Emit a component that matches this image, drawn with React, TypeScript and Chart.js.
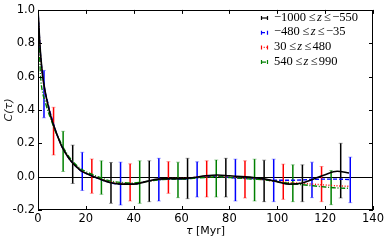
import React, { useEffect, useRef } from "react";
import { Chart, registerables } from "chart.js";
Chart.register(...registerables);

const TAU = [0, 1, 2, 3, 4, 5, 6, 7, 8, 10, 12, 14, 16, 18, 20, 25, 30, 35, 40, 45, 50, 55, 60, 65, 70, 75, 80, 85, 90, 95, 100, 105, 110, 115, 120, 125, 130];

const BLACK_C = [1.0, 0.75, 0.6, 0.51, 0.44, 0.38, 0.33, 0.29, 0.25, 0.18, 0.13, 0.09, 0.06, 0.035, 0.02, -0.01, -0.035, -0.045, -0.045, -0.03, -0.015, -0.012, -0.012, -0.005, 0.005, 0.01, 0.005, 0.0, -0.005, -0.015, -0.03, -0.045, -0.04, -0.015, 0.012, 0.032, 0.022];
const BLUE_C = [1.0, 0.74, 0.6, 0.51, 0.45, 0.39, 0.34, 0.29, 0.25, 0.18, 0.13, 0.09, 0.06, 0.035, 0.02, -0.01, -0.035, -0.045, -0.045, -0.03, -0.018, -0.015, -0.015, -0.008, 0.0, 0.002, -0.005, -0.01, -0.012, -0.018, -0.022, -0.022, -0.02, -0.016, -0.015, -0.015, -0.017];
const RED_C = [1.0, 0.73, 0.59, 0.5, 0.44, 0.38, 0.33, 0.29, 0.25, 0.18, 0.13, 0.09, 0.06, 0.037, 0.02, -0.008, -0.03, -0.04, -0.042, -0.03, -0.018, -0.012, -0.01, -0.005, 0.0, 0.002, -0.003, -0.008, -0.012, -0.02, -0.03, -0.035, -0.04, -0.045, -0.05, -0.055, -0.058];
const GREEN_C = [1.0, 0.62, 0.5, 0.45, 0.4, 0.36, 0.32, 0.28, 0.25, 0.19, 0.14, 0.1, 0.07, 0.045, 0.03, 0.0, -0.025, -0.035, -0.038, -0.03, -0.02, -0.015, -0.015, -0.01, -0.005, 0.0, -0.005, -0.01, -0.015, -0.02, -0.03, -0.04, -0.048, -0.055, -0.062, -0.068, -0.07];

const BLACK_ERR_TAU = [14.5, 30.5, 46.5, 62.5, 78.5, 94.5, 110.5, 126.5];
const BLACK_ERR_LO = [-0.041, -0.16, -0.15, -0.132, -0.122, -0.15, -0.15, -0.128];
const BLACK_ERR_HI = [0.189, 0.085, 0.095, 0.11, 0.11, 0.099, 0.071, 0.2];

const BLUE_ERR_TAU = [2.5, 18.5, 34.5, 50.5, 66.5, 82.5, 98.5, 114.5, 130.5];
const BLUE_ERR_LO = [0.353, -0.083, -0.17, -0.146, -0.122, -0.146, -0.15, -0.126, -0.156];
const BLUE_ERR_HI = [0.637, 0.146, 0.087, 0.11, 0.089, 0.105, 0.105, 0.087, 0.117];

const RED_ERR_TAU = [6.5, 22.5, 38.5, 54.5, 70.5, 86.5, 102.5, 118.5];
const RED_ERR_LO = [0.13, -0.1, -0.146, -0.1, -0.122, -0.128, -0.136, -0.15];
const RED_ERR_HI = [0.416, 0.106, 0.077, 0.09, 0.095, 0.095, 0.075, 0.061];

const GREEN_ERR_TAU = [10.5, 26.5, 42.5, 58.5, 74.5, 90.5, 106.5, 122.5];
const GREEN_ERR_LO = [0.031, -0.106, -0.16, -0.126, -0.122, -0.146, -0.15, -0.168];
const GREEN_ERR_HI = [0.272, 0.095, 0.095, 0.087, 0.1, 0.105, 0.071, 0.037];

const X_TICKS = [0, 20, 40, 60, 80, 100, 120, 140];
const Y_TICKS = [-0.2, 0.0, 0.2, 0.4, 0.6, 0.8, 1.0];

const LEGEND_LO = ["\u22121000", "\u2212480", "30", "540"];
const LEGEND_HI = ["\u2212550", "\u221235", "480", "990"];

const SERIES = [
  { color: "#000000", dash: [] as number[], values: BLACK_C, eT: BLACK_ERR_TAU, eL: BLACK_ERR_LO, eH: BLACK_ERR_HI },
  { color: "#0000ff", dash: [4, 2], values: BLUE_C, eT: BLUE_ERR_TAU, eL: BLUE_ERR_LO, eH: BLUE_ERR_HI },
  { color: "#ff0000", dash: [1, 1.7], values: RED_C, eT: RED_ERR_TAU, eL: RED_ERR_LO, eH: RED_ERR_HI },
  { color: "#008000", dash: [5, 1.7, 1, 1.7], values: GREEN_C, eT: GREEN_ERR_TAU, eL: GREEN_ERR_LO, eH: GREEN_ERR_HI },
];

const decorPlugin = {
  id: "decor",
  beforeDatasetsDraw(chart: any) {
    const { ctx, chartArea: a, scales } = chart;
    const xs = scales.x, ys = scales.y;
    ctx.save();
    ctx.strokeStyle = "#000";
    ctx.lineWidth = 1;
    const y0 = Math.round(ys.getPixelForValue(0)) + 0.5;
    ctx.beginPath();
    ctx.moveTo(a.left, y0);
    ctx.lineTo(a.right, y0);
    ctx.stroke();
    SERIES.forEach((s) => {
      for (let i = 0; i < s.eT.length; i++) {
        const x = xs.getPixelForValue(s.eT[i]);
        const yl = ys.getPixelForValue(s.eL[i]);
        const yh = ys.getPixelForValue(s.eH[i]);
        ctx.globalAlpha = 1;
        ctx.strokeStyle = s.color;
        ctx.lineWidth = 1.5;
        ctx.beginPath();
        ctx.moveTo(x, yl);
        ctx.lineTo(x, yh);
        ctx.stroke();
        ctx.globalAlpha = 0.35;
        ctx.lineWidth = 1;
        ctx.beginPath();
        ctx.moveTo(x - 2, yl);
        ctx.lineTo(x + 2, yl);
        ctx.moveTo(x - 2, yh);
        ctx.lineTo(x + 2, yh);
        ctx.stroke();
      }
    });
    ctx.restore();
  },
  afterDatasetsDraw(chart: any) {
    const { ctx, chartArea: a, scales } = chart;
    const xs = scales.x, ys = scales.y;
    ctx.save();
    ctx.strokeStyle = "#000";
    ctx.lineWidth = 1;
    ctx.strokeRect(Math.round(a.left) + 0.5, Math.round(a.top) + 0.5, Math.round(a.right - a.left) - 1, Math.round(a.bottom - a.top) - 1);
    ctx.beginPath();
    X_TICKS.forEach((v) => {
      const x = Math.round(xs.getPixelForValue(v)) + 0.5;
      ctx.moveTo(x, a.bottom);
      ctx.lineTo(x, a.bottom - 4);
      ctx.moveTo(x, a.top);
      ctx.lineTo(x, a.top + 4);
    });
    Y_TICKS.forEach((v) => {
      const y = Math.round(ys.getPixelForValue(v)) + 0.5;
      ctx.moveTo(a.left, y);
      ctx.lineTo(a.left + 4, y);
      ctx.moveTo(a.right, y);
      ctx.lineTo(a.right - 4, y);
    });
    ctx.stroke();

    // legend
    const rowY = [17.5, 32.2, 46.9, 61.6];
    const fs = 12.5;
    const normal = `${fs}px "Liberation Serif", serif`;
    const ital = `italic ${fs}px "Liberation Serif", serif`;
    SERIES.forEach((s, i) => {
      const y = rowY[i];
      ctx.strokeStyle = s.color;
      ctx.lineWidth = 1.2;
      ctx.setLineDash(s.dash);
      ctx.beginPath();
      ctx.moveTo(261, y + 0.5);
      ctx.lineTo(268, y + 0.5);
      ctx.stroke();
      ctx.setLineDash([]);
      ctx.beginPath();
      ctx.moveTo(261.5, y - 1.5);
      ctx.lineTo(261.5, y + 2.5);
      ctx.moveTo(267.5, y - 1.5);
      ctx.lineTo(267.5, y + 2.5);
      ctx.stroke();
      ctx.fillStyle = "#000";
      ctx.textBaseline = "middle";
      ctx.textAlign = "left";
      let x = 274;
      const parts: [string, string, number][] = [
        [LEGEND_LO[i], normal, 3],
        ["\u2264", normal, 1],
        ["z", ital, 2.5],
        ["\u2264", normal, 1],
        [LEGEND_HI[i], normal, 0],
      ];
      parts.forEach(([t, f, gap]) => {
        ctx.font = f;
        ctx.fillText(t, x, y);
        x += ctx.measureText(t).width + gap;
      });
    });

    // axis titles
    ctx.fillStyle = "#000";
    ctx.textBaseline = "middle";
    const cx = (a.left + a.right) / 2;
    ctx.font = 'italic 11px "DejaVu Sans", sans-serif';
    const t1 = "\u03c4";
    const t2 = " [Myr]";
    const w1 = ctx.measureText(t1).width;
    ctx.font = '11px "DejaVu Sans", sans-serif';
    const w2 = ctx.measureText(t2).width;
    const sx = cx - (w1 + w2) / 2;
    ctx.textAlign = "left";
    ctx.font = 'italic 11px "DejaVu Sans", sans-serif';
    ctx.fillText(t1, sx, 231);
    ctx.font = '11px "DejaVu Sans", sans-serif';
    ctx.fillText(t2, sx + w1, 231);

    ctx.translate(9, (a.top + a.bottom) / 2);
    ctx.rotate(-Math.PI / 2);
    ctx.textAlign = "center";
    ctx.font = 'italic 11px "DejaVu Sans", sans-serif';
    ctx.fillStyle = "#222";
    ctx.fillText("C(\u03c4)", 0, 0);
    ctx.restore();
  },
};

export default function App() {
  const ref = useRef<HTMLCanvasElement | null>(null);
  useEffect(() => {
    if (!ref.current) return;
    const datasets = SERIES.map((s, i) => ({
      data: TAU.map((t, k) => ({ x: t, y: s.values[k] })),
      borderColor: s.color,
      borderWidth: i === 0 ? 1.6 : 1.4,
      borderDash: s.dash,
      pointRadius: 0,
      fill: false,
      cubicInterpolationMode: "monotone" as const,
      order: i === 0 ? 0 : 4 - i,
    }));
    const chart = new Chart(ref.current, {
      type: "line",
      data: { datasets },
      options: {
        animation: false,
        responsive: false,
        devicePixelRatio: 1,
        layout: { padding: { top: 7, right: 17, left: 0, bottom: 0 } },
        plugins: { legend: { display: false }, tooltip: { enabled: false } },
        scales: {
          x: {
            type: "linear",
            min: 0,
            max: 140,
            grid: { display: false, drawTicks: false },
            border: { display: false },
            afterBuildTicks: (s: any) => { s.ticks = X_TICKS.map((v) => ({ value: v })); },
            afterFit: (s: any) => { s.height = 31; },
            ticks: {
              padding: 2,
              color: "#000",
              font: { family: "DejaVu Sans", size: 11.5 },
              maxRotation: 0,
              callback: (v: any) => String(v),
            },
          },
          y: {
            type: "linear",
            min: -0.2,
            max: 1.0,
            grid: { display: false, drawTicks: false },
            border: { display: false },
            afterBuildTicks: (s: any) => { s.ticks = Y_TICKS.map((v) => ({ value: v })); },
            afterFit: (s: any) => { s.width = 38; },
            ticks: {
              padding: 3,
              color: "#000",
              font: { family: "DejaVu Sans", size: 11.5 },
              callback: (v: any) => Number(v).toFixed(1),
            },
          },
        },
      },
      plugins: [decorPlugin],
    });
    return () => chart.destroy();
  }, []);
  return (
    <div style={{ position: "fixed", left: 0, top: 0, width: 390, height: 241, background: "#fff" }}>
      <canvas ref={ref} width={390} height={241} style={{ display: "block" }} />
    </div>
  );
}
